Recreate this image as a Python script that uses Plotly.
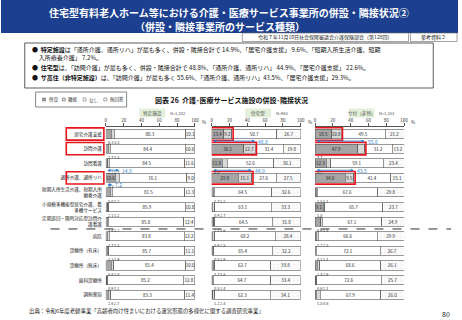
import plotly.graph_objects as go

# ---------------- data ----------------
categories = ["居宅介護支援", "訪問介護", "訪問看護", "通所介護、通所リハ",
              "短期入所生活介護、短期入所<br>療養介護",
              "小規模多機能型居宅介護、看<br>多機サービス",
              "定期巡回・随時対応型訪問介<br>護看護",
              "病院", "診療所（有床）", "診療所（無床）", "歯科診療所", "調剤薬局"]
series_names = ["併設", "隣接", "なし", "無回答"]
tick_vals = [0, 20, 40, 60, 80, 100]
tick_text = ["0", "20", "40", "60", "80", "100"]

tokutei_heisetsu = [6.3, 2.7, 2.2, 10.6, 5.0, 2.1, 1.4, 1.7, 1.3, 5.8, 0.9, 2.6]
tokutei_rinsetsu = [3.3, 2.3, 1.7, 4.3, 2.2, 1.2, 1.2, 2.3, 1.9, 2.8, 1.1, 2.7]
tokutei_nashi = [80.3, 84.4, 84.5, 76.1, 81.5, 85.9, 85.0, 83.8, 85.7, 81.4, 85.2, 83.3]
tokutei_mukaito = [10.1, 10.6, 11.6, 9.0, 11.3, 10.8, 12.4, 12.2, 11.1, 10.0, 12.8, 11.4]

jutaku_heisetsu = [13.4, 36.1, 11.8, 29.8, 1.7, 0.9, 2.1, 0.9, 0.5, 1.7, 0.5, 1.2]
jutaku_rinsetsu = [9.2, 12.7, 5.5, 15.1, 1.2, 2.7, 1.6, 2.5, 1.9, 1.8, 1.4, 2.4]
jutaku_nashi = [50.7, 31.4, 52.6, 27.6, 64.5, 63.1, 64.5, 68.2, 65.4, 62.7, 64.7, 62.3]
jutaku_mukaito = [26.7, 19.8, 30.1, 27.5, 32.6, 33.3, 31.8, 28.4, 32.2, 33.8, 33.4, 34.1]

safu_heisetsu = [18.5, 47.9, 12.3, 34.0, 1.5, 9.1, 6.6, 1.2, 0.1, 2.4, 0.6, 1.5]
safu_rinsetsu = [10.8, 7.7, 5.2, 9.5, 1.1, 1.5, 1.4, 2.3, 1.1, 2.9, 1.1, 4.6]
safu_nashi = [49.5, 31.2, 59.1, 41.4, 67.6, 65.7, 67.1, 66.6, 72.1, 68.6, 72.6, 67.9]
safu_mukaito = [21.2, 13.2, 23.4, 15.1, 29.8, 23.7, 24.9, 29.9, 26.7, 26.1, 25.7, 26.0]

panel_titles = ["特定施設", "住宅型", "サ付（非特）"]
panel_n = ["N=1,202", "N=963", "N=1,353"]
arrow_rows = [[0, 3, 4], [0, 1, 3], [0, 1, 3]]
bar_box_rows = [[], [0, 1, 3], [0, 1, 3]]
label_box_rows = [0, 1, 3]

title_line1 = "住宅型有料老人ホーム等における介護・医療サービス事業所の併設・隣接状況②"
title_line2 = "（併設・隣接事業所のサービス種類）"
meeting = "令和７年11月10日社会保障審議会介護保険部会（第128回）"
doc_ref = "参考資料２"
bullets = [
    "●  <b>特定施設</b>は「通所介護、通所リハ」が最も多く、併設・隣接合計で 14.9%、「居宅介護支援」 9.6%、「短期入所生活介護、短期",
    "     入所療養介護」 7.2%。",
    "●  <b>住宅型</b>は、「訪問介護」が最も多く、併設・隣接合計で 48.8%、「通所介護、通所リハ」 44.9%、「居宅介護支援」 22.6%。",
    "●  <b>サ高住（非特定施設）</b>は、「訪問介護」が最も多く 55.6%、「通所介護、通所リハ」43.5%、「居宅介護支援」29.3%。",
]
chart_title = "図表 26  介護･医療サービス施設の併設･隣接状況"
source = "出典：令和6年度老健事業「高齢者向け住まいにおける運営形態の多様化に関する調査研究事業」"
page_no = "80"

# ---------------- layout helpers ----------------
W, H = 462, 320
FONT = "Noto Sans CJK JP"


def px(x):
    return x / W


def py(y):
    return 1 - y / H


panels = [
    dict(ax="x", dom=[px(106), px(196)],
         vals=[tokutei_heisetsu, tokutei_rinsetsu, tokutei_nashi, tokutei_mukaito]),
    dict(ax="x2", dom=[px(213), px(303)],
         vals=[jutaku_heisetsu, jutaku_rinsetsu, jutaku_nashi, jutaku_mukaito]),
    dict(ax="x3", dom=[px(317.5), px(407.5)],
         vals=[safu_heisetsu, safu_rinsetsu, safu_nashi, safu_mukaito]),
]

fills = ["#a5a5a5", "#d9d9d9", "#ffffff", "#ffffff"]
fig = go.Figure()

for p in panels:
    for s, (name, vals) in enumerate(zip(series_names, p["vals"])):
        if s < 2:
            txt = [f"{v:.1f}" if v >= 9 else "" for v in vals]
        else:
            txt = [f"{v:.1f}" for v in vals]
        marker = dict(color=fills[s], line=dict(color="#555555", width=0.6))
        if s == 3:
            marker["pattern"] = dict(shape="+", size=4, solidity=0.12,
                                     fgcolor="#9a9a9a", bgcolor="#ffffff")
        fig.add_trace(go.Bar(
            y=categories, x=vals, orientation="h", name=name,
            xaxis=p["ax"], yaxis="y", width=0.62,
            marker=marker, text=txt, textposition="inside",
            insidetextanchor="middle", textangle=0,
            textfont=dict(size=4.5, color="#222222", family=FONT),
            showlegend=False, hoverinfo="skip"))

shapes = []
annotations = []

# small value labels under bars
for p in panels:
    xr = p["ax"]
    h_vals, r_vals = p["vals"][0], p["vals"][1]
    for i in range(len(categories)):
        small = [f"{v:.1f}" for v in (h_vals[i], r_vals[i]) if v < 9]
        if small:
            annotations.append(dict(x=0, y=i + 0.3, xref=xr, yref="y",
                                    text=" ".join(small), showarrow=False,
                                    xanchor="left", yanchor="top",
                                    font=dict(size=3.8, color="#333", family=FONT)))

# blue arrows for combined totals
for k, p in enumerate(panels):
    xr = p["ax"]
    for i in arrow_rows[k]:
        tot = round(p["vals"][0][i] + p["vals"][1][i], 1)
        yy = i - 0.52
        annotations.append(dict(x=tot, y=yy, ax=0, ay=yy, xref=xr, yref="y",
                                axref=xr, ayref="y", text="", showarrow=True,
                                arrowhead=2, startarrowhead=2, arrowside="end+start",
                                arrowsize=0.7, arrowwidth=0.9, arrowcolor="#2f7fd0"))
        annotations.append(dict(x=tot, y=yy, xref=xr, yref="y", text=f"{tot}",
                                showarrow=False, xanchor="left", xshift=1,
                                font=dict(size=5, color="#2f7fd0", family=FONT)))
    # red boxes on bars
    for i in bar_box_rows[k]:
        tot = p["vals"][0][i] + p["vals"][1][i]
        shapes.append(dict(type="rect", xref=xr, yref="y", x0=-1.2, x1=tot + 1.5,
                           y0=i - 0.43, y1=i + 0.43,
                           line=dict(color="#e8141b", width=1.6)))
    # panel header
    c0 = p["dom"][0] + px(34)
    shapes.append(dict(type="rect", xref="paper", yref="paper",
                       x0=c0, x1=c0 + px(26), y0=py(117.5), y1=py(108.5),
                       fillcolor="#e2efd9", line=dict(width=0)))
    annotations.append(dict(x=c0 + px(13), y=py(113), xref="paper", yref="paper",
                            text=panel_titles[k], showarrow=False,
                            font=dict(size=4.6, color="#4d4d4d", family=FONT)))
    annotations.append(dict(x=c0 + px(29), y=py(113), xref="paper", yref="paper",
                            text=panel_n[k], showarrow=False, xanchor="left",
                            font=dict(size=4, color="#4d4d4d", family=FONT)))
    annotations.append(dict(x=100, y=py(122), xref=xr, yref="paper", text="%",
                            showarrow=False, xanchor="left", xshift=5,
                            font=dict(size=4.5, color="#333", family=FONT)))

# red boxes around category labels (left)
for i in label_box_rows:
    shapes.append(dict(type="rect", xref="paper", yref="y", x0=px(66), x1=px(104),
                       y0=i - 0.42, y1=i + 0.42,
                       line=dict(color="#e8141b", width=1.6)))

# dashed separator
shapes.append(dict(type="line", xref="paper", yref="y", x0=px(50), x1=px(455),
                   y0=6.5, y1=6.5, line=dict(color="#333", width=1, dash="dash")))

# banner
shapes.append(dict(type="rect", xref="paper", yref="paper", x0=0, x1=1,
                   y0=py(33), y1=1, fillcolor="#1c3f8f", line=dict(width=0), layer="below"))
annotations.append(dict(x=px(230), y=py(12.3), xref="paper", yref="paper", text=f"<b>{title_line1}</b>",
                        showarrow=False, font=dict(size=10, color="white", family=FONT)))
annotations.append(dict(x=px(221), y=py(26.6), xref="paper", yref="paper", text=f"<b>{title_line2}</b>",
                        showarrow=False, font=dict(size=10, color="white", family=FONT)))
shapes.append(dict(type="rect", xref="paper", yref="paper", x0=px(244), x1=px(412),
                   y0=py(41.5), y1=py(33), fillcolor="white", line=dict(color="#666", width=0.6)))
annotations.append(dict(x=px(328), y=py(37.4), xref="paper", yref="paper", text=meeting,
                        showarrow=False, font=dict(size=5, color="#222", family=FONT)))
shapes.append(dict(type="rect", xref="paper", yref="paper", x0=px(414), x1=px(461),
                   y0=py(41.5), y1=py(33), fillcolor="white", line=dict(color="#666", width=0.6)))
annotations.append(dict(x=px(437.5), y=py(37.4), xref="paper", yref="paper", text=doc_ref,
                        showarrow=False, font=dict(size=5, color="#222", family=FONT)))

# bullet text box
shapes.append(dict(type="rect", xref="paper", yref="paper", x0=px(24), x1=px(437),
                   y0=py(88), y1=py(43), line=dict(color="#333", width=0.8)))
for ytxt, line in zip([49.5, 57.8, 67.5, 77.5], bullets):
    annotations.append(dict(x=px(29), y=py(ytxt), xref="paper", yref="paper", text=line,
                            showarrow=False, xanchor="left",
                            font=dict(size=6, color="#111", family=FONT)))

# legend box
shapes.append(dict(type="rect", xref="paper", yref="paper", x0=px(35), x1=px(127),
                   y0=py(107), y1=py(92), line=dict(color="#555", width=0.7)))
leg_x = [42, 62, 83, 104]
for s, lx in enumerate(leg_x):
    shp = dict(type="rect", xref="paper", yref="paper", x0=px(lx), x1=px(lx + 3),
               y0=py(101), y1=py(98), fillcolor=fills[s],
               line=dict(color="#555", width=0.5))
    shapes.append(shp)
    annotations.append(dict(x=px(lx + 4), y=py(99.5), xref="paper", yref="paper",
                            text=series_names[s], showarrow=False, xanchor="left",
                            font=dict(size=4.5, color="#333", family=FONT)))

annotations.append(dict(x=px(233), y=py(100), xref="paper", yref="paper",
                        text=f"<b>{chart_title}</b>", showarrow=False,
                        font=dict(size=7, color="#111", family=FONT)))
annotations.append(dict(x=px(26), y=py(311), xref="paper", yref="paper", text=source,
                        showarrow=False, xanchor="left",
                        font=dict(size=5.4, color="#222", family=FONT)))
annotations.append(dict(x=px(450), y=py(314), xref="paper", yref="paper", text=page_no,
                        showarrow=False, font=dict(size=7, color="#222", family=FONT)))

for a in annotations:
    a.setdefault("xanchor", "center")
    a.setdefault("yanchor", "middle")

xaxis_common = dict(range=[0, 100], side="top", anchor="y", tickvals=tick_vals,
                    ticktext=tick_text, ticks="outside", ticklen=2.5, tickwidth=0.6,
                    tickcolor="#555", showline=True, linecolor="#555", linewidth=0.6,
                    showgrid=False, zeroline=False,
                    tickfont=dict(size=4.5, color="#333", family=FONT), fixedrange=True)

fig.update_layout(
    width=W, height=H, margin=dict(l=0, r=0, t=0, b=0),
    paper_bgcolor="white", plot_bgcolor="white",
    barmode="stack", bargap=0.3,
    uniformtext=dict(minsize=4.5, mode="show"),
    xaxis=dict(domain=panels[0]["dom"], **xaxis_common),
    xaxis2=dict(domain=panels[1]["dom"], **xaxis_common),
    xaxis3=dict(domain=panels[2]["dom"], **xaxis_common),
    yaxis=dict(domain=[py(302), py(126.7)], type="category",
               categoryorder="array", categoryarray=categories,
               range=[11.5, -0.5], showline=False, ticks="", showgrid=False,
               tickfont=dict(size=4.6, color="#222", family=FONT), ticklabelstandoff=3,
               fixedrange=True),
    shapes=shapes, annotations=annotations,
    font=dict(family=FONT),
)

fig.write_html("out.html")
